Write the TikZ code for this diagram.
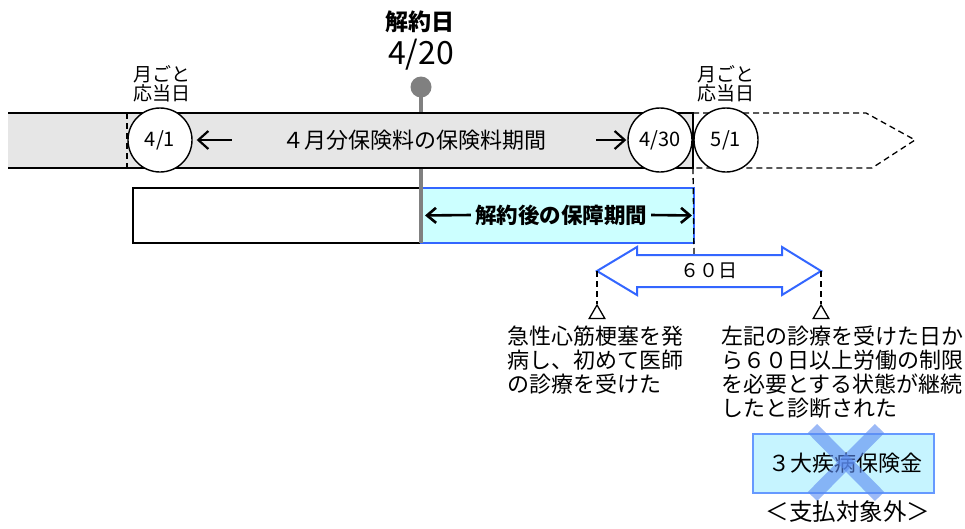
\documentclass[tikz,border=0pt]{standalone}
\usepackage{fontspec}
\setmainfont{Noto Sans CJK JP}
\usetikzlibrary{arrows.meta,shapes.geometric}
\definecolor{bandgray}{HTML}{E6E6E6}
\definecolor{pale}{HTML}{CCFFFF}
\definecolor{edgeblue}{HTML}{3366FF}
\definecolor{pinGray}{HTML}{808080}
\definecolor{xblue}{HTML}{5A8AF0}
\definecolor{boxthree}{HTML}{C6F4FF}
\definecolor{boxthreeedge}{HTML}{6699FF}
\begin{document}
\begin{tikzpicture}[x=1pt,y=-1pt,
  datecircle/.style={circle,draw=black,fill=white,line width=1.4pt,minimum size=64pt,inner sep=0pt,font=\fontsize{20}{20}\selectfont},
  lbl/.style={inner sep=0pt,font=\fontsize{22}{24}\selectfont,align=left},
  txtarrow/.style={line width=2.2pt,-{Straight Barb[length=10pt,width=18pt]}},
  boldarrow/.style={line width=2.6pt,-{Straight Barb[length=9pt,width=15pt]}},
  dashv/.style={line width=1.3pt,dash pattern=on 6pt off 4pt},
  tri/.style={regular polygon,regular polygon sides=3,draw=black,line width=1.3pt,minimum size=18pt,inner sep=0pt},
  monthlbl/.style={align=center,inner sep=0pt,font=\fontsize{19}{17}\selectfont},
]
\path[use as bounding box] (0,0) rectangle (965,528);

% lower boxes
\node[draw=black,line width=1.4pt,fill=white,minimum width=288pt,minimum height=55pt,inner sep=0pt,outer sep=0pt,anchor=north west] (wbox) at (133,188) {};
\node[draw=edgeblue,line width=1.6pt,fill=pale,minimum width=273pt,minimum height=55pt,inner sep=0pt,outer sep=0pt,anchor=north west] (bbox) at (421,188) {};

% stem
\coordinate (pinc) at (421,87);
\coordinate (stembot) at (421,243);
\draw[pinGray,line width=4pt] (pinc) -- (stembot);

% band
\fill[bandgray] (8,113) rectangle (693,168);
\draw[line width=1.4pt] (8,113) -- (693,113) -- (693,168) -- (8,168);
\draw[dashv] (693,113) -- (866,113) -- (915,140) -- (872,168) -- (693,168);
\draw[dashv] (127,113) -- (127,168);

% pin
\node[circle,fill=pinGray,minimum size=21pt,inner sep=0pt] (pin) at (pinc) {};
\node[inner sep=0pt,font=\bfseries\fontsize{23}{23}\selectfont] (kd) at (420,22) {解約日};
\node[inner sep=0pt,font=\fontsize{32}{32}\selectfont] (kdate) at (421,55) {4/20};

% circles
\node[datecircle] (c41) at (160,140) {4/1};
\node[datecircle] (c430) at (660,140) {4/30};
\node[datecircle] (c51) at (726,140) {5/1};
\node[monthlbl] (m1) at (162,84) {月ごと\\応当日};
\node[monthlbl] (m2) at (726,84) {月ごと\\応当日};

% band label and arrows
\node[lbl] (bandlbl) at (414,140) {４月分保険料の保険料期間};
\draw[txtarrow,shorten >=4pt] ([xshift=-50pt]bandlbl.west) -- (c41.east);
\draw[txtarrow,shorten >=1pt] ([xshift=50pt]bandlbl.east) -- (c430.west);

% blue box label
\node[inner sep=0pt,font=\bfseries\fontsize{21.5}{21.5}\selectfont] (bboxlbl) at (561,215) {解約後の保障期間};
\draw[boldarrow,shorten >=4pt] ([xshift=-4pt]bboxlbl.west) -- (bbox.west);
\draw[boldarrow,shorten >=2pt] ([xshift=4pt]bboxlbl.east) -- (bbox.east);

% double block arrow
\coordinate (dashend) at (694,255);
\draw[dashv] (693,168) -- (dashend);
\draw[edgeblue,line width=2pt,fill=white,line join=miter]
  (597,271) -- (637,247) -- (637,255) -- (782,255) -- (782,247)
  -- (821,271) -- (782,295) -- (782,287) -- (637,287) -- (637,295) -- cycle;
\coordinate (la) at (597,271);
\coordinate (ra) at (821,271);
\node[inner sep=0pt,font=\fontsize{19}{19}\selectfont] (sixty) at (709,271) {６０日};

% triangles
\node[tri] (t1) at (597,314) {};
\node[tri] (t2) at (821,314) {};
\draw[dashv] (la) -- (t1.north);
\draw[dashv] (ra) -- (t2.north);

% texts
\node[lbl,anchor=north west] (ltxt) at (507,326) {急性心筋梗塞を発\\病し、初めて医師\\の診療を受けた};
\node[lbl,anchor=north west] (rtxt) at (721,326) {左記の診療を受けた日か\\ら６０日以上労働の制限\\を必要とする状態が継続\\したと診断された};

% benefit box
\node[draw=boxthreeedge,fill=boxthree,line width=1.3pt,minimum width=181pt,minimum height=59pt,inner sep=0pt] (box3) at (843.5,463.5) {};
\node[inner sep=0pt,font=\fontsize{22}{22}\selectfont] (box3lbl) at (845,463) {３大疾病保険金};
\draw[xblue,opacity=0.6,line width=13pt] ([shift={(-31,-35)}]box3.center) -- ([shift={(36,33)}]box3.center);
\draw[xblue,opacity=0.6,line width=13pt] ([shift={(36,-35)}]box3.center) -- ([shift={(-31,33)}]box3.center);
\node[inner sep=0pt,font=\fontsize{23.5}{23.5}\selectfont] (nopay) at (848,512) {＜支払対象外＞};
\end{tikzpicture}
\end{document}
